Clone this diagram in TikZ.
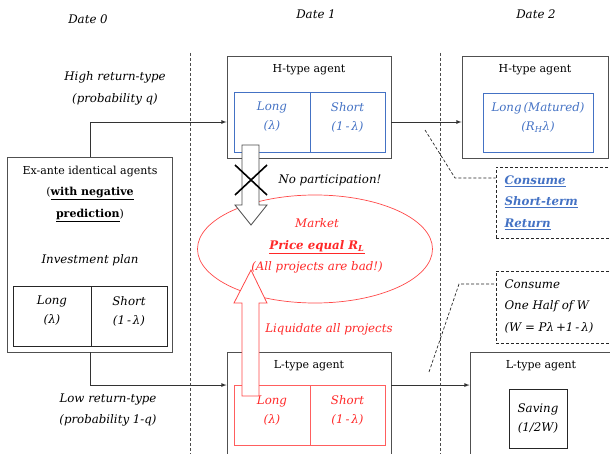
\documentclass[tikz,border=0pt]{standalone}
\usepackage{fontspec}
\setmainfont{DejaVu Serif}
\usetikzlibrary{shapes,positioning,arrows}
\definecolor{hblue}{RGB}{68,114,196}
\definecolor{lred}{RGB}{255,40,40}
\definecolor{boxgray}{RGB}{80,80,80}
\newcommand{\lam}{λ}

\begin{document}
\begin{tikzpicture}[x=1pt,y=-1pt,font=\fontsize{11}{21.5}\selectfont]
\tikzstyle{agent}=[rectangle, draw=boxgray, line width=0.9pt]
\tikzstyle{hpart}=[rectangle, draw=hblue, line width=0.7pt, minimum height=60, text=hblue]
\tikzstyle{lpart}=[rectangle, draw=lred!75, line width=0.9pt, minimum height=60, text=lred]
\tikzstyle{plan}=[rectangle, draw=black!85, line width=0.7pt, minimum height=60]
\tikzstyle{note}=[rectangle, draw=black!85, densely dashed, line width=0.7pt]
\tikzstyle{txt}=[align=center, font=\itshape\fontsize{11.8}{21.5}\selectfont]
\tikzstyle{inner}=[align=center, font=\itshape\fontsize{11.8}{19}\selectfont]
\tikzstyle{connect}=[-latex, line width=0.8pt, draw=black!80]
\tikzstyle{dateline}=[densely dashed, line width=0.8pt, draw=black!70]
\tikzstyle{noteline}=[densely dashed, line width=0.7pt, draw=black!85]
\useasboundingbox (0,0) rectangle (610,454);

% dates
\node[txt] (d0) at (88,19) {Date 0};
\node[txt] (d1) at (316,14) {Date 1};
\node[txt] (d2) at (536,14) {Date 2};
\draw[dateline] (190,53) -- (190,454);
\draw[dateline] (440,53) -- (440,454);

% date 0
\node[agent, minimum width=165, minimum height=195] (exante) at (90,254.5) {};
\node[align=center] (extitle) at (90,193.5) {Ex-ante identical agents\\(\textbf{\underline{with negative}}\\\textbf{\underline{prediction}})};
\node[txt] (plan) at (90,260) {Investment plan};
\node[plan, minimum width=78] (xlong) at (52,316) [label={[inner,yshift=5pt]center:{Long\\(\lam)}}]{};
\node[plan, minimum width=76] (xshort) at (129,316) [label={[inner,yshift=5pt]center:{Short\\(1\,-\,\lam)}}]{};
\node[txt] (high) at (115,88.5) {High return-type\\(probability q)};
\node[txt] (low) at (108,410) {Low return-type\\(probability 1-q)};

% date 1
\node[agent, minimum width=164, minimum height=102] (hagent1) at (309,107) {};
\node (htitle1) at (309,70) {H-type agent};
\node[hpart, minimum width=76] (hlong1) at (272,122) [label={[inner,text=hblue,yshift=5pt]center:{Long\\(\lam)}}]{};
\node[hpart, minimum width=75] (hshort1) at (347.5,122) [label={[inner,text=hblue,yshift=5pt]center:{Short\\(1\,-\,\lam)}}]{};
\node[agent, minimum width=164, minimum height=108] (lagent1) at (309,406) {};
\node (ltitle1) at (309,366) {L-type agent};
\node[lpart, minimum width=76] (llong1) at (272,415.5) [label={[inner,text=lred,yshift=5pt]center:{Long\\(\lam)}}]{};
\node[lpart, minimum width=75] (lshort1) at (347.5,415.5) [label={[inner,text=lred,yshift=5pt]center:{Short\\(1\,-\,\lam)}}]{};

% market
\node[ellipse, draw=lred!85, line width=0.7pt, minimum width=235, minimum height=108] (market) at (315,249) {};
\node[txt, text=lred] (mtext) at (317,246) {Market\\\textbf{\underline{Price equal R\textsubscript{L}}}\\(All projects are bad!)};

% date 2
\node[agent, minimum width=146, minimum height=102] (hagent2) at (535,107) {};
\node (htitle2) at (535,70) {H-type agent};
\node[hpart, minimum width=110, minimum height=59] (hlong2) at (538,122.5) [label={[inner,text=hblue,yshift=5pt]center:{Long\,(Matured)\\(R\textsubscript{H}\lam)}}]{};
\node[agent, minimum width=144, minimum height=108] (lagent2) at (542,406) {};
\node (ltitle2) at (541,366) {L-type agent};
\node[plan, minimum width=58, minimum height=59] (saving) at (538,418.5) [label={[inner,yshift=0pt]center:{Saving\\(1/2W)}}]{};

% notes
\node[note, minimum width=118, minimum height=71] (note1) at (555,202.5) {};
\node[txt, anchor=west, align=left, text=hblue] (n1text) at (501,202.5) {\textbf{\underline{Consume}}\\\textbf{\underline{Short-term}}\\\textbf{\underline{Return}}};
\node[note, minimum width=118, minimum height=72] (note2) at (555,307) {};
\node[txt, anchor=west, align=left] (n2text) at (501,306.5) {Consume\\One Half of W\\(W = P\lam\,+1\,-\,\lam)};
\coordinate (n1a) at (425,130);
\coordinate (n1b) at (455,178);
\coordinate (n2a) at (429,372);
\coordinate (n2b) at (459,284);
\draw[noteline] (n1a) -- (n1b) -- (n1b -| note1.west);
\draw[noteline] (n2a) -- (n2b) -- (n2b -| note2.west);

% flows
\draw[connect] (exante.north) |- (hagent1.west |- hlong1.center);
\draw[connect] (exante.south) |- (lagent1.west |- llong1.north);
\draw[connect] (hagent1.east |- hshort1.center) -- (hagent2.west |- hshort1.center);
\draw[connect] (lagent1.east |- lshort1.north) -- (lagent2.west |- lshort1.north);

% block arrows
\draw[draw=black!70, fill=white, line width=0.8pt] (242,145) -- (259,145) -- (259,205) -- (267,205) -- (251,225) -- (235,205) -- (242,205) -- cycle;
\draw[line width=1.6pt] (235,165) -- (267,195) (235,195) -- (267,165);
\node[txt] (nopart) at (330,180) {No participation!};
\draw[draw=lred!85, fill=white, line width=0.8pt] (242,396) -- (259,396) -- (259,303) -- (267,303) -- (251,270) -- (234,303) -- (242,303) -- cycle;
\node[txt, text=lred] (liq) at (329,329) {Liquidate all projects};
\end{tikzpicture}
\end{document}
